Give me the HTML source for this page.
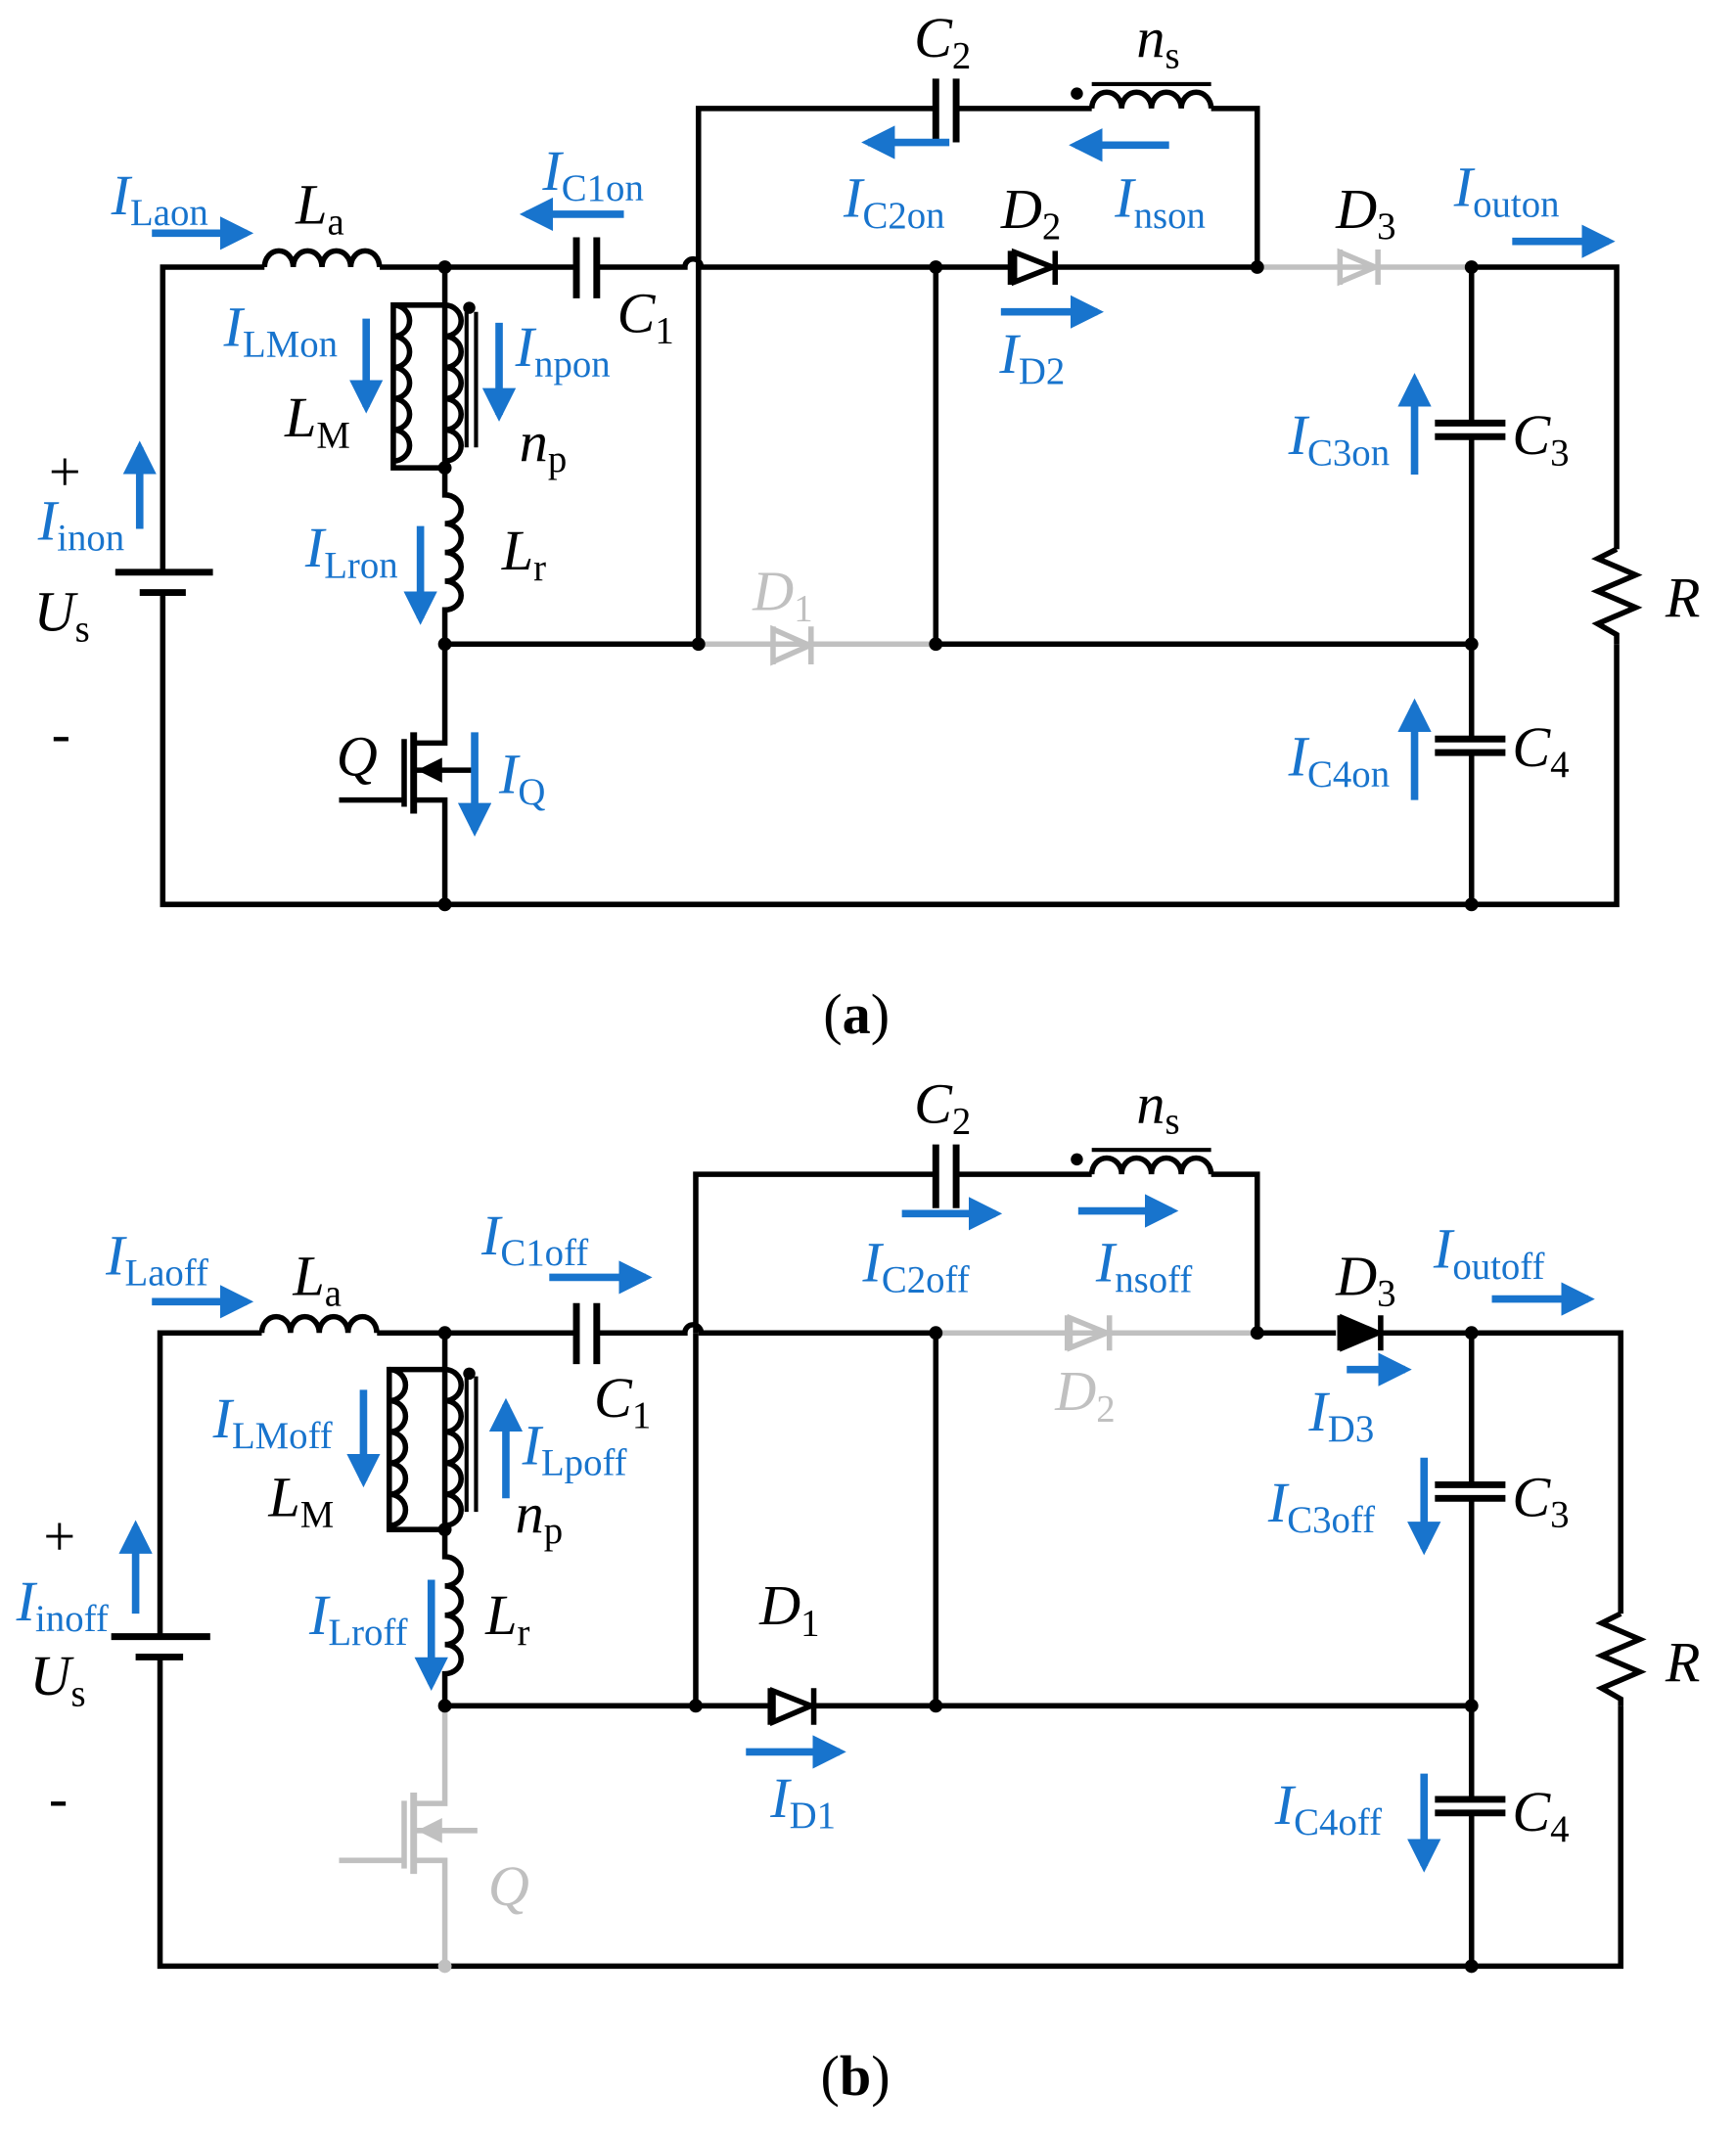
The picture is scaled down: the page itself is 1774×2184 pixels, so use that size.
<!DOCTYPE html>
<html><head><meta charset="utf-8"><style>
html,body{margin:0;padding:0;background:#fff}
svg{display:block}
text{font-family:"Liberation Serif",serif;font-size:42px}
.v{font-style:italic}
.bl{fill:#1874CD}
.gr{fill:#c0c0c0}
</style></head><body>
<svg width="1774" height="2184" viewBox="0 0 1280 1576" preserveAspectRatio="none" xmlns="http://www.w3.org/2000/svg">
<defs>
<marker id="ah" viewBox="0 0 10 10" refX="8" refY="5" markerWidth="4.5" markerHeight="4.5" orient="auto"><path d="M0,0 L10,5 L0,10 z" fill="#1874CD"/></marker>
</defs>
<g fill="none" stroke="#000" stroke-width="4">
<path d="M120,422 V197 H195 M280,197 H425 M440,197 H505 a6,6 0 0 1 12,0 H745 M778,197 H925"/>
<path d="M195,197 a10.6,12 0 0 1 21.2,0 a10.6,12 0 0 1 21.2,0 a10.6,12 0 0 1 21.2,0 a10.6,12 0 0 1 21.2,0"/>
<path d="M425,175 V220 M440,175 V220" stroke-width="5"/>
<path d="M515,197 V80 H690 M705,80 H805 M893,80 H927 V197"/>
<path d="M690,58 V105 M705,58 V105" stroke-width="5"/>
<path d="M805,80 a11,12 0 0 1 22,0 a11,12 0 0 1 22,0 a11,12 0 0 1 22,0 a11,12 0 0 1 22,0"/>
<path d="M805,62 H893" stroke-width="3"/>
<path d="M1085,197 H1192 V405 M1192,475 V667 H120 V437"/>
<path d="M1192,405 l-14,7 l28,12 l-28,12 l28,12 l-28,12 l14,8 V475"/>
<path d="M85,422 H157" stroke-width="5"/><path d="M103,437 H137" stroke-width="5"/>
<path d="M328,197 V225 H290 V345 H328 V197"/>
<path d="M290,225 a12,11.5 0 0 1 0,23 a12,11.5 0 0 1 0,23 a12,11.5 0 0 1 0,23 a12,11.5 0 0 1 0,23 a12,11.5 0 0 1 0,23"/>
<path d="M328,225 a12,11.5 0 0 1 0,23 a12,11.5 0 0 1 0,23 a12,11.5 0 0 1 0,23 a12,11.5 0 0 1 0,23 a12,11.5 0 0 1 0,23"/>
<path d="M344,230 V330 M351,230 V330" stroke-width="3"/>
<path d="M328,345 V365 a12,10.6 0 0 1 0,21.2 a12,10.6 0 0 1 0,21.2 a12,10.6 0 0 1 0,21.2 a12,10.6 0 0 1 0,21.2 V475"/>
<path d="M328,475 H515 M690,475 H1085 M515,197 V475 M690,197 V475 M1085,197 V312 M1085,322 V545 M1085,555 V667"/>
<path d="M1058,312 H1110 M1058,322 H1110 M1058,545 H1110 M1058,555 H1110" stroke-width="5"/>
<path d="M745,185 V210 M778,185 V210" stroke-width="4"/><path d="M748,186 L776,197 L748,208 Z" fill="#fff"/>
<path d="M328,475 V548 H305 M305,590 H328 V667 M305,568 H350 M250,590 H298 M298,545 V595" />
<path d="M305,540 V600" stroke-width="5"/>
<path d="M312,568 l12,-6 v12 z" fill="#000"/>
<g stroke="#c0c0c0">
<path d="M925,197 H1085 M515,475 H690"/>
<path d="M988,184 V210 M1016,184 V210 M988,186 L1014,197 L988,208 Z"/>
<path d="M570,462 V490 M598,462 V490 M570,464 L597,476 L570,488 Z"/>
</g>
</g>
<g fill="#000">
<circle cx="328" cy="197" r="5"/><circle cx="690" cy="197" r="5"/><circle cx="927" cy="197" r="5"/><circle cx="1085" cy="197" r="5"/>
<circle cx="328" cy="345" r="5"/><circle cx="328" cy="475" r="5"/><circle cx="515" cy="475" r="5"/><circle cx="690" cy="475" r="5"/><circle cx="1085" cy="475" r="5"/>
<circle cx="328" cy="667" r="5"/><circle cx="1085" cy="667" r="5"/>
<circle cx="346" cy="227" r="4.5"/><circle cx="794" cy="69" r="4.5"/>
</g>
<g stroke="#1874CD" stroke-width="5.5" marker-end="url(#ah)" fill="none">
<path d="M112,172 H182"/><path d="M460,158 H388"/><path d="M700,105 H640"/><path d="M862,107 H793"/><path d="M1115,178 H1186"/>
<path d="M270,235 V300"/><path d="M368,238 V306"/><path d="M738,230 H809"/><path d="M1043,350 V280"/><path d="M103,390 V330"/>
<path d="M310,388 V456"/><path d="M350,540 V612"/><path d="M1043,590 V520"/>
</g>
<g class="bl">
<text x="82" y="158"><tspan class="v">I</tspan><tspan font-size="28" dy="8">Laon</tspan></text>
<text x="400" y="140"><tspan class="v">I</tspan><tspan font-size="28" dy="8">C1on</tspan></text>
<text x="622" y="160"><tspan class="v">I</tspan><tspan font-size="28" dy="8">C2on</tspan></text>
<text x="822" y="160"><tspan class="v">I</tspan><tspan font-size="28" dy="8">nson</tspan></text>
<text x="1072" y="152"><tspan class="v">I</tspan><tspan font-size="28" dy="8">outon</tspan></text>
<text x="165" y="255"><tspan class="v">I</tspan><tspan font-size="28" dy="8">LMon</tspan></text>
<text x="380" y="270"><tspan class="v">I</tspan><tspan font-size="28" dy="8">npon</tspan></text>
<text x="737" y="275"><tspan class="v">I</tspan><tspan font-size="28" dy="8">D2</tspan></text>
<text x="950" y="335"><tspan class="v">I</tspan><tspan font-size="28" dy="8">C3on</tspan></text>
<text x="28" y="398"><tspan class="v">I</tspan><tspan font-size="28" dy="8">inon</tspan></text>
<text x="225" y="418"><tspan class="v">I</tspan><tspan font-size="28" dy="8">Lron</tspan></text>
<text x="368" y="585"><tspan class="v">I</tspan><tspan font-size="28" dy="8">Q</tspan></text>
<text x="950" y="572"><tspan class="v">I</tspan><tspan font-size="28" dy="8">C4on</tspan></text>
</g>
<g>
<text x="218" y="165"><tspan class="v">L</tspan><tspan font-size="28" dy="8">a</tspan></text>
<text x="455" y="245"><tspan class="v">C</tspan><tspan font-size="28" dy="8">1</tspan></text>
<text x="210" y="322"><tspan class="v">L</tspan><tspan font-size="28" dy="8">M</tspan></text>
<text x="383" y="340"><tspan class="v">n</tspan><tspan font-size="28" dy="8">p</tspan></text>
<text x="370" y="420"><tspan class="v">L</tspan><tspan font-size="28" dy="8">r</tspan></text>
<text x="25" y="465"><tspan class="v">U</tspan><tspan font-size="28" dy="8">s</tspan></text>
<text x="36" y="362" font-size="30">+</text>
<text x="38" y="555">-</text>
<text x="248" y="572" class="v">Q</text>
<text x="674" y="42"><tspan class="v">C</tspan><tspan font-size="28" dy="8">2</tspan></text>
<text x="838" y="42"><tspan class="v">n</tspan><tspan font-size="28" dy="8">s</tspan></text>
<text x="738" y="168"><tspan class="v">D</tspan><tspan font-size="28" dy="8">2</tspan></text>
<text x="985" y="168"><tspan class="v">D</tspan><tspan font-size="28" dy="8">3</tspan></text>
<text x="1115" y="335"><tspan class="v">C</tspan><tspan font-size="28" dy="8">3</tspan></text>
<text x="1115" y="565"><tspan class="v">C</tspan><tspan font-size="28" dy="8">4</tspan></text>
<text x="1228" y="455" class="v">R</text>
<text x="607" y="762" font-size="46">(<tspan font-weight="bold">a</tspan>)</text>
</g>
<text x="555" y="450" class="gr"><tspan class="v">D</tspan><tspan font-size="28" dy="8">1</tspan></text>

<g fill="none" stroke="#000" stroke-width="4">
<path d="M118,1207 V983 H193 M278,983 H425 M440,983 H505 a6,6 0 0 1 12,0 H690 M927,983 H985 M1018,983 H1195 V1190 M1195,1258 V1450 H118 V1222"/>
<path d="M193,983 a10.6,12 0 0 1 21.2,0 a10.6,12 0 0 1 21.2,0 a10.6,12 0 0 1 21.2,0 a10.6,12 0 0 1 21.2,0"/>
<path d="M425,961 V1006 M440,961 V1006" stroke-width="5"/>
<path d="M513,983 V866 H690 M705,866 H805 M893,866 H927 V983"/>
<path d="M690,844 V891 M705,844 V891" stroke-width="5"/>
<path d="M805,866 a11,12 0 0 1 22,0 a11,12 0 0 1 22,0 a11,12 0 0 1 22,0 a11,12 0 0 1 22,0"/>
<path d="M805,848 H893" stroke-width="3"/>
<path d="M1195,1190 l-14,7 l28,12 l-28,12 l28,12 l-28,12 l14,8 V1258"/>
<path d="M82,1207 H155" stroke-width="5"/><path d="M100,1222 H135" stroke-width="5"/>
<path d="M328,983 V1010 H287 V1128 H328 V983"/>
<path d="M287,1010 a12,11.5 0 0 1 0,23 a12,11.5 0 0 1 0,23 a12,11.5 0 0 1 0,23 a12,11.5 0 0 1 0,23 a12,11.5 0 0 1 0,23"/>
<path d="M328,1010 a12,11.5 0 0 1 0,23 a12,11.5 0 0 1 0,23 a12,11.5 0 0 1 0,23 a12,11.5 0 0 1 0,23 a12,11.5 0 0 1 0,23"/>
<path d="M344,1015 V1115 M351,1015 V1115" stroke-width="3"/>
<path d="M328,1128 V1148 a12,10.8 0 0 1 0,21.6 a12,10.8 0 0 1 0,21.6 a12,10.8 0 0 1 0,21.6 a12,10.8 0 0 1 0,21.6 V1258"/>
<path d="M328,1258 H1085 M513,983 V1258 M690,983 V1258 M1085,983 V1095 M1085,1105 V1327 M1085,1337 V1450"/>
<path d="M1058,1095 H1110 M1058,1105 H1110 M1058,1327 H1110 M1058,1337 H1110" stroke-width="5"/>
<path d="M988,970 V996 M1018,970 V996" /><path d="M990,972 L1016,983 L990,994 Z" fill="#000"/>
<path d="M568,1245 V1272 M600,1245 V1272" /><path d="M570,1247 L598,1258 L570,1270 Z" fill="#fff"/>
<g stroke="#c0c0c0">
<path d="M690,983 H927 M787,970 V996 M818,970 V996 M789,972 L816,983 L789,994 Z"/>
<path d="M328,1258 V1330 H305 M305,1372 H328 V1450 M305,1350 H352 M250,1372 H298 M298,1328 V1378"/>
<path d="M305,1322 V1382" stroke-width="5"/>
<path d="M312,1350 l12,-6 v12 z" fill="#c0c0c0"/>
</g>
</g>
<g fill="#000">
<circle cx="328" cy="983" r="5"/><circle cx="690" cy="983" r="5"/><circle cx="927" cy="983" r="5"/><circle cx="1085" cy="983" r="5"/>
<circle cx="328" cy="1128" r="5"/><circle cx="328" cy="1258" r="5"/><circle cx="513" cy="1258" r="5"/><circle cx="690" cy="1258" r="5"/><circle cx="1085" cy="1258" r="5"/>
<circle cx="1085" cy="1450" r="5"/><circle cx="346" cy="1013" r="4.5"/><circle cx="794" cy="855" r="4.5"/>
</g>
<circle cx="328" cy="1450" r="5" fill="#c0c0c0"/>
<g stroke="#1874CD" stroke-width="5.5" marker-end="url(#ah)" fill="none">
<path d="M112,960 H182"/><path d="M405,942 H476"/><path d="M665,895 H734"/><path d="M795,893 H864"/><path d="M1100,958 H1171"/>
<path d="M268,1025 V1092"/><path d="M373,1105 V1036"/><path d="M993,1010 H1036"/><path d="M1050,1075 V1142"/><path d="M100,1190 V1126"/>
<path d="M318,1165 V1242"/><path d="M550,1292 H619"/><path d="M1050,1308 V1376"/>
</g>
<g class="bl">
<text x="78" y="940"><tspan class="v">I</tspan><tspan font-size="28" dy="8">Laoff</tspan></text>
<text x="355" y="925"><tspan class="v">I</tspan><tspan font-size="28" dy="8">C1off</tspan></text>
<text x="636" y="945"><tspan class="v">I</tspan><tspan font-size="28" dy="8">C2off</tspan></text>
<text x="808" y="945"><tspan class="v">I</tspan><tspan font-size="28" dy="8">nsoff</tspan></text>
<text x="1057" y="935"><tspan class="v">I</tspan><tspan font-size="28" dy="8">outoff</tspan></text>
<text x="157" y="1060"><tspan class="v">I</tspan><tspan font-size="28" dy="8">LMoff</tspan></text>
<text x="385" y="1080"><tspan class="v">I</tspan><tspan font-size="28" dy="8">Lpoff</tspan></text>
<text x="965" y="1055"><tspan class="v">I</tspan><tspan font-size="28" dy="8">D3</tspan></text>
<text x="935" y="1122"><tspan class="v">I</tspan><tspan font-size="28" dy="8">C3off</tspan></text>
<text x="12" y="1195"><tspan class="v">I</tspan><tspan font-size="28" dy="8">inoff</tspan></text>
<text x="228" y="1205"><tspan class="v">I</tspan><tspan font-size="28" dy="8">Lroff</tspan></text>
<text x="568" y="1340"><tspan class="v">I</tspan><tspan font-size="28" dy="8">D1</tspan></text>
<text x="940" y="1345"><tspan class="v">I</tspan><tspan font-size="28" dy="8">C4off</tspan></text>
</g>
<g>
<text x="216" y="955"><tspan class="v">L</tspan><tspan font-size="28" dy="8">a</tspan></text>
<text x="438" y="1045"><tspan class="v">C</tspan><tspan font-size="28" dy="8">1</tspan></text>
<text x="198" y="1118"><tspan class="v">L</tspan><tspan font-size="28" dy="8">M</tspan></text>
<text x="380" y="1130"><tspan class="v">n</tspan><tspan font-size="28" dy="8">p</tspan></text>
<text x="358" y="1205"><tspan class="v">L</tspan><tspan font-size="28" dy="8">r</tspan></text>
<text x="22" y="1250"><tspan class="v">U</tspan><tspan font-size="28" dy="8">s</tspan></text>
<text x="32" y="1147" font-size="30">+</text>
<text x="36" y="1340">-</text>
<text x="674" y="828"><tspan class="v">C</tspan><tspan font-size="28" dy="8">2</tspan></text>
<text x="838" y="828"><tspan class="v">n</tspan><tspan font-size="28" dy="8">s</tspan></text>
<text x="985" y="955"><tspan class="v">D</tspan><tspan font-size="28" dy="8">3</tspan></text>
<text x="560" y="1198"><tspan class="v">D</tspan><tspan font-size="28" dy="8">1</tspan></text>
<text x="1115" y="1118"><tspan class="v">C</tspan><tspan font-size="28" dy="8">3</tspan></text>
<text x="1115" y="1350"><tspan class="v">C</tspan><tspan font-size="28" dy="8">4</tspan></text>
<text x="1228" y="1240" class="v">R</text>
<text x="605" y="1545" font-size="46">(<tspan font-weight="bold">b</tspan>)</text>
</g>
<text x="778" y="1040" class="gr"><tspan class="v">D</tspan><tspan font-size="28" dy="8">2</tspan></text>
<text x="360" y="1405" class="gr v">Q</text>
</svg>
</body></html>
